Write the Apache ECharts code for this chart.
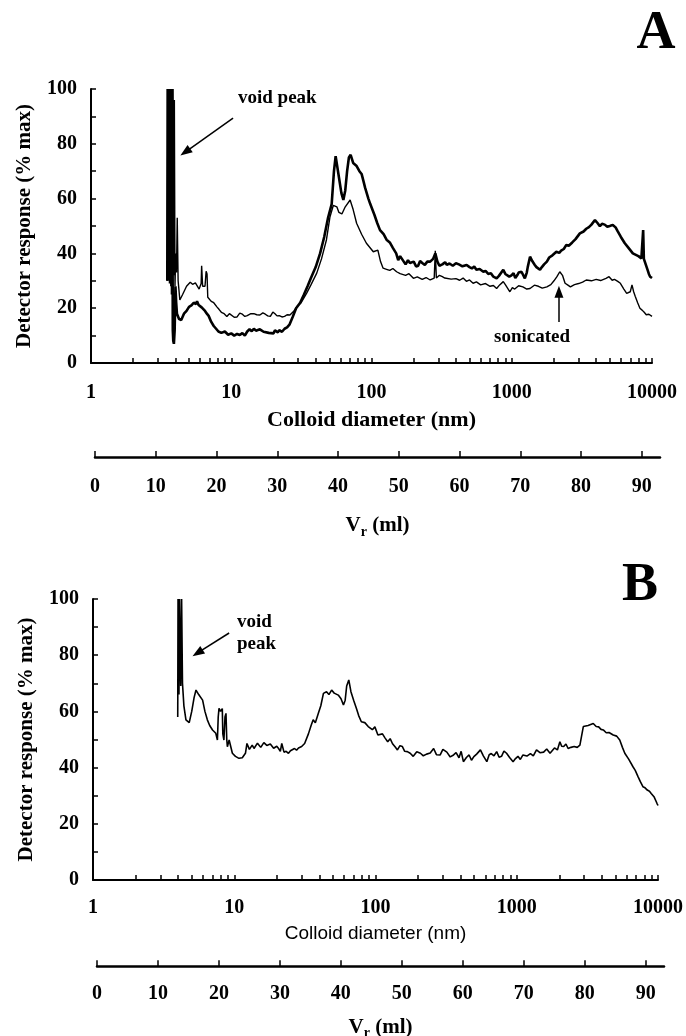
<!DOCTYPE html>
<html>
<head>
<meta charset="utf-8">
<script src="https://cdn.jsdelivr.net/npm/echarts@6/dist/echarts.min.js"></script>
<style>
  html, body { margin: 0; background: #fff; }
  #chart { width: 686px; height: 1036px; }
</style>
</head>
<body>
<div id="chart"></div>
<script>
// panel A, unsonicated sample (heavy line): [diameter nm, % max]
const panelA_raw = [
  [3.5, 30], [3.52, 100], [3.54, 30], [3.56, 100], [3.58, 31], [3.6, 100], [3.62, 30], [3.64, 100],
  [3.66, 29], [3.68, 100], [3.7, 30], [3.72, 98], [3.74, 28], [3.76, 95], [3.78, 25], [3.8, 80],
  [3.83, 12], [3.86, 8], [3.9, 7], [3.95, 12], [4.0, 28], [4.05, 22], [4.1, 18], [4.25, 16],
  [4.4, 15.7], [4.6, 18], [4.8, 19], [5.0, 20.5], [5.2, 21], [5.4, 22], [5.6, 21.5], [5.7, 22.5],
  [5.85, 21.2], [6.0, 21], [6.15, 20.3], [6.3, 20], [6.5, 19], [6.7, 18], [6.9, 17.2], [7.2, 15],
  [7.5, 13.5], [7.8, 12.5], [8.1, 11.5], [8.5, 11], [9, 11.5], [9.5, 10.3], [10, 10.8], [10.5, 10],
  [11, 10.6], [11.5, 10.2], [12, 10.9], [12.5, 10], [13, 11.5], [13.5, 12.3], [14, 11.6], [14.5, 12.5],
  [15, 11.8], [16, 12.3], [17, 11.4], [17.5, 12], [18.5, 11], [19, 11.4], [20, 10.8], [20.5, 11.9],
  [21.5, 11.2], [22, 12], [23, 11.4], [24, 12.5], [25, 13], [26, 14], [27.5, 17], [29, 20],
  [31, 22], [33, 25], [35, 28], [37, 31], [40, 35], [43, 40], [46, 46], [49, 53],
  [52, 58], [54, 70], [55.5, 75.5], [57, 76], [58.5, 68], [61, 62], [63, 59.5], [65, 63],
  [67, 70], [69, 75], [71, 76], [74, 73], [76, 73.5], [78, 72], [82, 70], [85, 69],
  [88, 66], [90, 64], [95, 60], [98, 58], [105, 54], [110, 51], [115, 48.5], [122, 47],
  [128, 45], [135, 44], [142, 42], [150, 40], [155, 37.5], [160, 39], [165, 38.5], [175, 36],
  [182, 37.5], [188, 36.5], [200, 37], [208, 35.2], [215, 35.5], [222, 37.2], [230, 36.5], [240, 35.8],
  [250, 37], [262, 37], [275, 38], [285, 40], [295, 37], [305, 35.5], [320, 36], [335, 36.8],
  [344, 35.8], [360, 36.3], [380, 35.5], [400, 36.4], [420, 36], [445, 35.3], [477, 35.8], [500, 35],
  [520, 34.5], [540, 35.2], [560, 34], [590, 34.3], [627, 33.3], [650, 33.6], [680, 32.5], [710, 32.8],
  [740, 31.5], [780, 30.9], [810, 31.8], [830, 32], [870, 34], [900, 32.5], [920, 33], [960, 31.5],
  [995, 32], [1030, 32.8], [1060, 31], [1100, 32.2], [1120, 33], [1173, 33.3], [1210, 32], [1240, 30.9],
  [1280, 33], [1300, 35], [1350, 38.8], [1400, 37.2], [1420, 37], [1460, 35.8], [1500, 35], [1540, 34.5],
  [1590, 34], [1640, 35], [1700, 36], [1780, 37], [1850, 38.5], [1950, 39.3], [2080, 40.6], [2180, 40.2],
  [2250, 41], [2350, 41.6], [2450, 43.1], [2550, 42.8], [2700, 44], [2850, 45.2], [3060, 47.3], [3250, 48],
  [3400, 49], [3550, 49.6], [3700, 50.5], [3920, 52.2], [4100, 51], [4250, 49.9], [4400, 50.8], [4600, 50.5],
  [4800, 49.7], [5000, 50], [5250, 50.4], [5500, 49.5], [5700, 48], [6000, 46], [6400, 43.7], [6800, 42],
  [7300, 40], [8000, 39], [8400, 38.2], [8600, 38], [8650, 48.5], [8750, 38], [9000, 37.6], [9300, 34],
  [9500, 32.5], [9700, 31.5], [10000, 31]
];

// panel A, sonicated sample (light line)
const panelA_sonicated = [
  [3.5, 30], [3.53, 95], [3.57, 35], [3.61, 100], [3.65, 40], [3.69, 100], [3.73, 35], [3.77, 100],
  [3.81, 38], [3.85, 100], [3.89, 32], [3.93, 96], [3.97, 28], [4.02, 40], [4.07, 33], [4.12, 53],
  [4.18, 30], [4.3, 23], [4.5, 25],
  [4.8, 28], [5.1, 29.5], [5.3, 28.7], [5.4, 28], [5.55, 29.2], [5.7, 28.5], [5.9, 27], [6.1, 29],
  [6.15, 35.5], [6.25, 28], [6.5, 28], [6.62, 33.5], [6.72, 32.5], [6.8, 24], [7.2, 22.5], [7.5, 22],
  [7.9, 20.5], [8.2, 19.5], [8.5, 18.5], [8.9, 18], [9.3, 17], [9.7, 18], [10, 17.5], [10.5, 16.7],
  [11, 16.8], [11.5, 18.2], [12, 17.8], [12.5, 17], [13, 17.3], [13.8, 18], [14.5, 18], [15.2, 17.6],
  [16, 17.5], [16.8, 18.3], [17.5, 17.8], [18.2, 17.2], [19, 17], [19.8, 18.6], [20.5, 18], [21.2, 17.2],
  [22, 17.3], [23, 16.8], [24, 17], [25, 17.6], [26.2, 17.5], [28, 19], [29.3, 20.5], [31.5, 22],
  [34.5, 25.5], [37, 28.5], [40.7, 32.8], [44, 38], [47.7, 44.9], [50.6, 53.4], [53.4, 57.5], [56.6, 57],
  [58.5, 55], [61.5, 54.4], [65, 57], [70.4, 59.5], [74, 56], [78.3, 51], [85, 47], [92, 43.7],
  [103, 40.6], [111, 41.2], [116, 37], [121, 34.6], [128, 34.2], [135, 33.8], [142, 34.5], [151, 33.3],
  [160, 32.6], [175, 32], [185, 32.6], [199, 30.9], [212, 31.4], [230, 30.5], [245, 31.2], [262, 30.3],
  [280, 31], [285, 41], [290, 31], [305, 32], [320, 31.5], [333, 31], [344, 31.5], [370, 30.6],
  [400, 30.8], [425, 30.2], [450, 31], [475, 29.8], [500, 30.3], [530, 29.1], [560, 29.6], [600, 28.5],
  [650, 29], [700, 28], [740, 28.3], [780, 27.2], [820, 28.5], [870, 29.7], [900, 28.6], [930, 28],
  [970, 26], [1010, 27.5], [1050, 27], [1120, 28.2], [1200, 27.8], [1280, 27], [1350, 27.2], [1450, 28.4],
  [1550, 28], [1650, 27.3], [1780, 27.8], [1900, 28.6], [2000, 30], [2100, 31.5], [2200, 33.3], [2300, 32],
  [2400, 29.1], [2500, 28.5], [2620, 27.8], [2800, 28.6], [3000, 29], [3200, 29.5], [3400, 30.3], [3700, 30],
  [4000, 30.5], [4300, 30.1], [4700, 30.9], [4940, 31.5], [5200, 30.2], [5400, 30.5], [5700, 29.8], [5950, 29.1],
  [6300, 27], [6600, 25.4], [7000, 26], [7200, 28.5], [7400, 26], [7600, 24.3], [7900, 22], [8200, 20],
  [8500, 19.3], [8800, 18.5], [9100, 17.6], [9500, 17.8], [10000, 17]
];

// panel B, single sample
const panelB = [
  [3.98, 58], [4.0, 100], [4.06, 66], [4.1, 100], [4.18, 69], [4.24, 100], [4.3, 70], [4.4, 62],
  [4.55, 57], [4.8, 56], [5.0, 60], [5.2, 65], [5.36, 67.6], [5.6, 66], [5.97, 64], [6.2, 60],
  [6.45, 57], [6.7, 55], [7.02, 53.4], [7.2, 54], [7.4, 52.2], [7.6, 49.8], [7.7, 58], [7.8, 61.1],
  [8.0, 60], [8.23, 61], [8.3, 52], [8.45, 49.8], [8.6, 58], [8.74, 59.3], [8.85, 50], [8.94, 47.4],
  [9.2, 49.8], [9.7, 45.1], [10.2, 44], [10.8, 43.3], [11.4, 43.5], [12.0, 45.1], [12.3, 48.6], [12.8, 46.5],
  [13.4, 48], [13.8, 46.8], [14.2, 47.5], [14.6, 48.7], [15, 49], [15.4, 47.2], [15.8, 47.8], [16.2, 48.9],
  [16.6, 49.2], [17, 47.9], [17.5, 47.5], [18, 48.4], [18.5, 48], [19, 46.9], [19.5, 47], [20, 47.6],
  [20.6, 46.8], [21.2, 45.8], [21.7, 48.6], [22.5, 45.5], [23.3, 45.8], [24.2, 45.1], [25, 46], [25.5, 46.5],
  [26.7, 46.8], [27.6, 46.2], [28.5, 47], [30, 47.5], [31.5, 48.6], [33.5, 52], [35, 55], [36.2, 57],
  [37.5, 56], [39.4, 59.3], [41, 62], [42.8, 66.4], [45, 67], [46.8, 66], [48.9, 67.6], [51, 66.5],
  [54.5, 65.8], [57, 64.5], [59.3, 62.3], [61, 64], [62.5, 69], [64.7, 71.2], [67, 67], [70, 64],
  [73.2, 61.1], [76, 58.5], [79.4, 56.3], [84, 56], [88.8, 54.6], [95, 53.5], [99, 54.5], [104, 51.6],
  [112, 52], [117, 50.5], [122, 49.2], [127, 50.3], [132, 48.5], [138, 47.3], [143, 46.3], [149, 47.8],
  [155, 47.5], [161, 45.8], [168, 45.7], [176, 45.1], [185, 44], [196, 45.6], [208, 45.1], [218, 44.2],
  [230, 44.8], [244, 45.2], [258, 46.8], [270, 44.6], [287, 44.5], [300, 46.5], [320, 45.5], [338, 43.8],
  [357, 44.5], [372, 45.3], [390, 43.5], [404, 45.8], [419, 42.1], [440, 43.6], [460, 44.5], [478, 42.6],
  [497, 43.9], [520, 44.8], [553, 46.3], [580, 44.2], [614, 42.1], [638, 44.6], [660, 45], [690, 44.2],
  [721, 45.7], [750, 43.7], [780, 44], [812, 45.9], [847, 45.1], [890, 43.6], [942, 42.1], [980, 43.2],
  [1020, 44], [1060, 42.9], [1107, 44.5], [1180, 44.1], [1250, 45], [1310, 44.2], [1380, 46.3], [1460, 45.3],
  [1550, 45.5], [1630, 46.6], [1720, 45.1], [1850, 47], [1940, 46.3], [2020, 49.2], [2080, 47.6], [2150, 47.5],
  [2230, 48.4], [2310, 46.8], [2420, 47.2], [2550, 47.5], [2680, 47.2], [2800, 48], [2960, 54.6], [3200, 55],
  [3480, 55.7], [3650, 54.6], [3800, 54.5], [3950, 53.6], [4100, 53.4], [4300, 52.4], [4500, 52.5], [4820, 51.6],
  [5100, 51.2], [5360, 49.8], [5600, 47.2], [5820, 45.1], [6200, 43], [6650, 40.3], [6900, 39], [7220, 36.8],
  [7500, 35], [7820, 33.2], [8100, 32.8], [8400, 32], [8700, 31.6], [8950, 30.8], [9200, 30.1], [9400, 29.5],
  [9830, 27.3], [10000, 26.5]
];

// axis ticks
const diamLabels = [1, 10, 100, 1000, 10000];
const diamTicks = [];
diamLabels.slice(0, 4).forEach(function (dec) {
  [1, 2, 3, 4, 5, 6, 7, 8, 9].forEach(function (m) { diamTicks.push(m * dec) });
});
diamTicks.push(10000);
const respTicks = [0, 10, 20, 30, 40, 50, 60, 70, 80, 90, 100];
const respLabels = [0, 20, 40, 60, 80, 100];
const vrTicks = [0, 10, 20, 30, 40, 50, 60, 70, 80, 90];
const vrMax = 93;

const SERIF = '"Liberation Serif", "Times New Roman", serif';
const SANS = '"Liberation Sans", Arial, sans-serif';

const tickLabel = { fontFamily: SERIF, fontWeight: 'bold', fontSize: 20, color: '#000' };
const vrName = '{v|V}{s|r}{v| (ml)}';
const vrRich = {
  v: { fontFamily: SERIF, fontWeight: 'bold', fontSize: 21, color: '#000', lineHeight: 26 },
  s: { fontFamily: SERIF, fontWeight: 'bold', fontSize: 14, color: '#000', lineHeight: 26, verticalAlign: 'bottom' },
};

function diamAxis(grid, nameStyle, gap, margin) {
  return {
    type: 'log', logBase: 10, min: 1, max: 10000, gridIndex: grid,
    name: 'Colloid diameter (nm)', nameLocation: 'middle', nameGap: gap,
    nameTextStyle: nameStyle,
    axisLine: { lineStyle: { color: '#000', width: 2 } },
    axisTick: { inside: true, length: 5, customValues: diamTicks, lineStyle: { color: '#000', width: 1.5 } },
    axisLabel: Object.assign({
      margin: margin, customValues: diamLabels,
      formatter: function (v) { return String(Math.round(v)) },
    }, tickLabel),
    splitLine: { show: false },
  };
}

function vrAxis(grid, gap, margin) {
  return {
    type: 'value', min: 0, max: vrMax, gridIndex: grid,
    name: vrName, nameLocation: 'middle', nameGap: gap,
    nameTextStyle: { rich: vrRich },
    axisLine: { lineStyle: { color: '#000', width: 2.5 } },
    axisTick: { inside: true, length: 6, customValues: vrTicks, lineStyle: { color: '#000', width: 1.5 } },
    axisLabel: Object.assign({ margin: margin, customValues: vrTicks }, tickLabel),
    splitLine: { show: false },
  };
}

function respAxis(grid) {
  return {
    type: 'value', min: 0, max: 100, gridIndex: grid,
    name: 'Detector response (% max)', nameLocation: 'middle', nameGap: 56,
    nameTextStyle: { fontFamily: SERIF, fontWeight: 'bold', fontSize: 21, color: '#000' },
    axisLine: { show: true, lineStyle: { color: '#000', width: 2 } },
    axisTick: { show: true, inside: true, length: 5, customValues: respTicks, lineStyle: { color: '#000', width: 1.5 } },
    axisLabel: Object.assign({ margin: 14, customValues: respLabels }, tickLabel),
    splitLine: { show: false },
  };
}

function hiddenY(grid) {
  return { type: 'value', gridIndex: grid, show: false, min: 0, max: 1 };
}

function arrow(from, to) {
  return {
    silent: true, symbol: ['none', 'triangle'], symbolSize: [9, 12],
    lineStyle: { color: '#000', width: 1.5, type: 'solid' },
    label: { show: false },
    data: [[{ coord: from }, { coord: to }]],
  };
}

const chart = echarts.init(document.getElementById('chart'));
chart.setOption({
  animation: false,
  backgroundColor: '#fff',
  grid: [
    { left: 91, top: 89, width: 561, height: 274 },
    { left: 95, top: 456, width: 565, height: 1 },
    { left: 93, top: 599, width: 569, height: 281 },
    { left: 97, top: 966, width: 567, height: 1 },
  ],
  xAxis: [
    diamAxis(0, { fontFamily: SERIF, fontWeight: 'bold', fontSize: 22, color: '#000' }, 46, 20),
    vrAxis(1, 56, 20),
    diamAxis(2, { fontFamily: SANS, fontWeight: 'normal', fontSize: 19, color: '#000' }, 44, 18),
    vrAxis(3, 48, 18),
  ],
  yAxis: [respAxis(0), hiddenY(1), respAxis(2), hiddenY(3)],
  series: [
    {
      name: 'raw', type: 'line', xAxisIndex: 0, yAxisIndex: 0, data: panelA_raw,
      showSymbol: false, lineStyle: { color: '#000', width: 2.6 },
      markLine: arrow([10.3, 89.4], [4.7, 77]),
    },
    {
      name: 'sonicated', type: 'line', xAxisIndex: 0, yAxisIndex: 0, data: panelA_sonicated,
      showSymbol: false, lineStyle: { color: '#000', width: 1.4 },
      markLine: arrow([2170, 15], [2170, 26]),
    },
    {
      name: 'B', type: 'line', xAxisIndex: 2, yAxisIndex: 2, data: panelB,
      showSymbol: false, lineStyle: { color: '#000', width: 1.6 },
      markLine: arrow([9.2, 87.9], [5.5, 80.8]),
    },
  ],
  graphic: [
    { type: 'text', x: 656, y: 34, style: { text: 'A', font: 'bold 54px ' + SERIF, fill: '#000', textAlign: 'center', textVerticalAlign: 'middle' } },
    { type: 'text', x: 640, y: 586, style: { text: 'B', font: 'bold 54px ' + SERIF, fill: '#000', textAlign: 'center', textVerticalAlign: 'middle' } },
    { type: 'text', x: 238, y: 98, style: { text: 'void peak', font: 'bold 19px ' + SERIF, fill: '#000', textAlign: 'left', textVerticalAlign: 'middle' } },
    { type: 'text', x: 532, y: 337, style: { text: 'sonicated', font: 'bold 19px ' + SERIF, fill: '#000', textAlign: 'center', textVerticalAlign: 'middle' } },
    { type: 'text', x: 237, y: 622, style: { text: 'void', font: 'bold 19px ' + SERIF, fill: '#000', textAlign: 'left', textVerticalAlign: 'middle' } },
    { type: 'text', x: 237, y: 644, style: { text: 'peak', font: 'bold 19px ' + SERIF, fill: '#000', textAlign: 'left', textVerticalAlign: 'middle' } },
  ],
});
</script>
</body>
</html>
